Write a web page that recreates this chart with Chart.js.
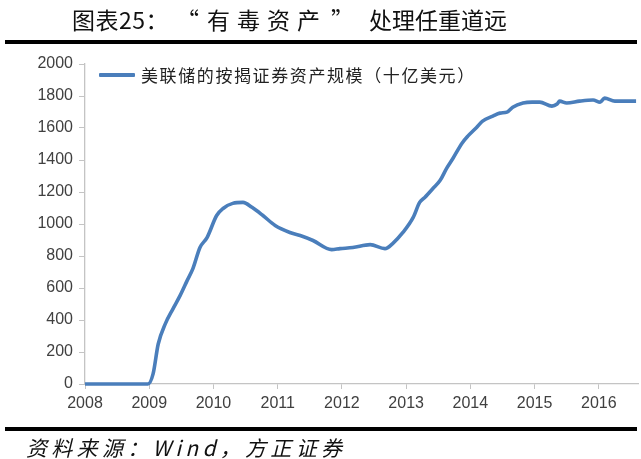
<!DOCTYPE html>
<html><head><meta charset="utf-8">
<script src="https://cdn.jsdelivr.net/npm/chart.js@4"></script>
<style>
html,body{margin:0;padding:0;background:#fff;width:641px;height:459px;overflow:hidden;}
#wrap{position:relative;width:641px;height:459px;}
#c{position:absolute;left:0;top:0;}
.title{position:absolute;top:4px;font-family:"Noto Sans CJK SC";font-size:23px;color:#111;white-space:nowrap;line-height:30px;}
.rule{position:absolute;left:5px;width:632px;height:4px;background:#000;}
.lgline{position:absolute;left:99px;top:73px;width:36px;height:4px;background:#4A7EBB;border-radius:1px;}
.lgtext{position:absolute;left:141px;top:62px;font-family:"Noto Sans CJK SC";font-size:17px;letter-spacing:1.6px;color:#222;white-space:nowrap;line-height:26px;}
.footer{position:absolute;left:26px;top:435px;font-family:"Noto Sans CJK SC";font-style:italic;font-size:21px;letter-spacing:4.3px;color:#111;white-space:nowrap;line-height:24px;}
</style></head>
<body><div id="wrap">
<canvas id="c" width="641" height="459"></canvas>
<span class="title" style="left:72px;letter-spacing:0.5px">图表25：</span><span class="title" style="left:176px">“</span><span class="title" style="left:207px;letter-spacing:7px">有毒资产</span><span class="title" style="left:331px">”</span><span class="title" style="left:369px;letter-spacing:0px">处理任重道远</span>
<div class="rule" style="top:40px"></div>
<div class="lgline"></div>
<div class="lgtext">美联储的按揭证券资产规模（十亿美元）</div>
<div class="rule" style="top:427px"></div>
<div class="footer">资料来源：Wind，方正证券</div>
</div>
<script>
const seriesName = "美联储的按揭证券资产规模（十亿美元）";
const dates = [2008.0, 2008.5, 2008.98, 2009.06, 2009.14, 2009.25, 2009.37, 2009.48, 2009.59, 2009.68, 2009.79, 2009.90,
  2010.05, 2010.15, 2010.30, 2010.46, 2010.60, 2010.77, 2010.96, 2011.19, 2011.35, 2011.55, 2011.84, 2011.97,
  2012.17, 2012.44, 2012.67, 2012.79, 2012.95, 2013.11, 2013.21, 2013.29, 2013.42, 2013.53, 2013.63, 2013.73,
  2013.87, 2013.96, 2014.10, 2014.19, 2014.35, 2014.46, 2014.57, 2014.66, 2014.82, 2014.96, 2015.08, 2015.27,
  2015.35, 2015.39, 2015.50, 2015.70, 2015.91, 2016.02, 2016.09, 2016.25, 2016.58];
const mbsHoldings = [0, 0, 0, 63, 250, 376, 470, 552, 646, 721, 853, 915,
  1053, 1097, 1129, 1135, 1104, 1053, 991, 947, 928, 897, 840, 846,
  853, 871, 846, 878, 947, 1041, 1135, 1166, 1223, 1273, 1348, 1411,
  1505, 1549, 1605, 1643, 1674, 1693, 1699, 1730, 1756, 1762, 1762, 1737,
  1750, 1768, 1756, 1768, 1775, 1762, 1787, 1768, 1768];
const yearTicks = [2008, 2009, 2010, 2011, 2012, 2013, 2014, 2015, 2016];
const valueTicks = [0, 200, 400, 600, 800, 1000, 1200, 1400, 1600, 1800, 2000];

const axisColor = '#c4c4c4';
const labelFont = {family: '"Liberation Sans", Arial, sans-serif', size: 16};
new Chart(document.getElementById('c'), {
  type: 'line',
  data: {datasets: [{
    label: seriesName,
    data: dates.map((d, i) => ({x: d, y: mbsHoldings[i]})),
    borderColor: '#4A7EBB', borderWidth: 3.6, pointRadius: 0, tension: 0.3,
    cubicInterpolationMode: 'monotone', clip: 5, fill: false
  }]},
  options: {
    responsive: false, animation: false,
    layout: {padding: {left: 0, right: 3, top: 64, bottom: 0}},
    plugins: {legend: {display: false}, tooltip: {enabled: false}},
    scales: {
      x: {
        type: 'linear', min: 2008, max: 2016.61,
        afterBuildTicks: s => { s.ticks = yearTicks.map(v => ({value: v})); },
        afterFit: s => { s.height = 75; },
        ticks: {callback: v => String(v), font: labelFont, color: '#404040', padding: 5, maxRotation: 0, autoSkip: false},
        grid: {drawOnChartArea: false, tickLength: 5, color: axisColor},
        border: {color: axisColor, width: 1.3}
      },
      y: {
        min: 0, max: 2000,
        afterBuildTicks: s => { s.ticks = valueTicks.map(v => ({value: v})); },
        afterFit: s => { s.width = 85; },
        ticks: {callback: v => String(v), font: labelFont, color: '#404040', padding: 6},
        grid: {drawOnChartArea: false, tickLength: 6, color: axisColor},
        border: {color: axisColor, width: 1.3}
      }
    }
  }
});
</script>
</body></html>
